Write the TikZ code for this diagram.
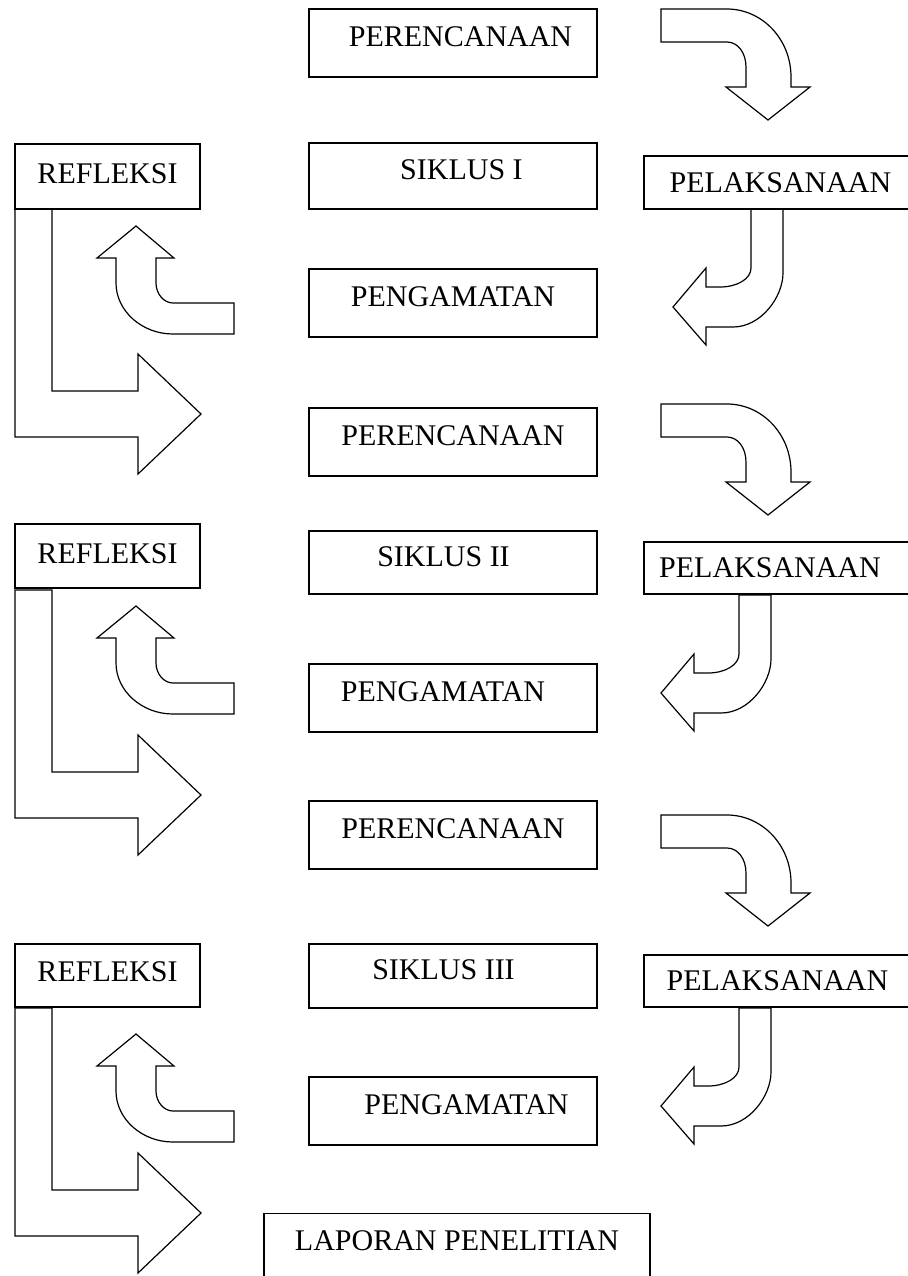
\documentclass[tikz,border=0pt]{standalone}
\usepackage{fontspec}
\setmainfont{Liberation Serif}
\usepackage{tikz}

\tikzset{
  kotak/.style={draw, line width=0.7pt, shape=rectangle, inner sep=0pt,
    minimum width=144pt, minimum height=34pt, text height=9.9pt, text depth=6pt,
    font=\fontsize{15}{18}\selectfont},
  panah/.style={draw, line width=0.6pt, line join=miter}
}

\begin{document}
\begin{tikzpicture}[x=0.5pt, y=-0.5pt]
\useasboundingbox (0,0) rectangle (908,1276);

% kolom tengah
\node[kotak] (per1) at (453,43) {\hspace*{7.5pt}PERENCANAAN};
\node[kotak, minimum height=33pt] (sik1) at (453,176) {\hspace*{8.5pt}SIKLUS I};
\node[kotak] (peng1) at (453,303) {PENGAMATAN};
\node[kotak] (per2) at (453,442) {PERENCANAAN};
\node[kotak, minimum height=31.5pt] (sik2) at (453,562.5) {SIKLUS II\hspace*{9.5pt}};
\node[kotak] (peng2) at (453,698) {PENGAMATAN\hspace*{10pt}};
\node[kotak] (per3) at (453,835) {PERENCANAAN};
\node[kotak, minimum height=32pt] (sik3) at (453,976) {SIKLUS III\hspace*{9.5pt}};
\node[kotak] (peng3) at (453,1111) {\hspace*{13.5pt}PENGAMATAN};
\node[kotak, anchor=north, minimum width=193pt, minimum height=50pt, text depth=23pt] (lap) at (457,1213) {LAPORAN PENELITIAN};

% kolom kiri
\node[kotak, minimum width=92.5pt, minimum height=32.5pt, text depth=2.5pt] (ref1) at (107.5,176.5) {REFLEKSI};
\node[kotak, minimum width=92.5pt, minimum height=32pt, text depth=2.5pt] (ref2) at (107.5,556) {REFLEKSI};
\node[kotak, minimum width=92.5pt, minimum height=31.5pt, text depth=3.5pt] (ref3) at (107.5,975.5) {REFLEKSI};

% kolom kanan
\node[kotak, minimum width=140pt, minimum height=26.5pt, text depth=0pt] (pel1) at (784,182.5) {PELAKSANAAN\hspace*{3.5pt}};
\node[kotak, minimum width=140pt, minimum height=26pt, text depth=0pt] (pel2) at (784,568) {PELAKSANAAN\hspace*{14pt}};
\node[kotak, minimum width=140pt, minimum height=26pt, text depth=0pt] (pel3) at (784,981) {PELAKSANAAN\hspace*{6.5pt}};

% perencanaan -> pelaksanaan
\draw[panah] (661,9) -- (727,9) .. controls (762,9) and (791,39) .. (791,77) -- (791,87) -- (810,87) -- (768,120) -- (726,87) -- (746,87) -- (746,67) .. controls (746,53) and (738,42) .. (727,42) -- (661,42) -- cycle;
\draw[panah, shift={(0,395)}] (661,9) -- (727,9) .. controls (762,9) and (791,39) .. (791,77) -- (791,87) -- (810,87) -- (768,120) -- (726,87) -- (746,87) -- (746,67) .. controls (746,53) and (738,42) .. (727,42) -- (661,42) -- cycle;
\draw[panah, shift={(0,806)}] (661,9) -- (727,9) .. controls (762,9) and (791,39) .. (791,77) -- (791,87) -- (810,87) -- (768,120) -- (726,87) -- (746,87) -- (746,67) .. controls (746,53) and (738,42) .. (727,42) -- (661,42) -- cycle;

% pelaksanaan -> pengamatan
\draw[panah] (751,209) -- (751,268) .. controls (751,279) and (737,287) .. (720,287) -- (706,287) -- (706,268) -- (673,307) -- (706,345) -- (706,327) -- (733,327) .. controls (761,327) and (783,297) .. (783,273) -- (783,209) -- cycle;
\draw[panah, shift={(-12,386)}] (751,209) -- (751,268) .. controls (751,279) and (737,287) .. (720,287) -- (706,287) -- (706,268) -- (673,307) -- (706,345) -- (706,327) -- (733,327) .. controls (761,327) and (783,297) .. (783,273) -- (783,209) -- cycle;
\draw[panah, shift={(-12,799)}] (751,209) -- (751,268) .. controls (751,279) and (737,287) .. (720,287) -- (706,287) -- (706,268) -- (673,307) -- (706,345) -- (706,327) -- (733,327) .. controls (761,327) and (783,297) .. (783,273) -- (783,209) -- cycle;

% pengamatan -> refleksi
\draw[panah] (234,303) -- (173,303) .. controls (164,303) and (156,294) .. (156,283) -- (156,258) -- (174,258) -- (136,226) -- (97,258) -- (116,258) -- (116,283) .. controls (116,311) and (142,334) .. (173,334) -- (234,334) -- cycle;
\draw[panah, shift={(0,380)}] (234,303) -- (173,303) .. controls (164,303) and (156,294) .. (156,283) -- (156,258) -- (174,258) -- (136,226) -- (97,258) -- (116,258) -- (116,283) .. controls (116,311) and (142,334) .. (173,334) -- (234,334) -- cycle;
\draw[panah, shift={(0,808)}] (234,303) -- (173,303) .. controls (164,303) and (156,294) .. (156,283) -- (156,258) -- (174,258) -- (136,226) -- (97,258) -- (116,258) -- (116,283) .. controls (116,311) and (142,334) .. (173,334) -- (234,334) -- cycle;

% refleksi -> perencanaan berikutnya
\draw[panah] (15,209) -- (15,437) -- (138,437) -- (138,474) -- (201,414) -- (138,354) -- (138,391) -- (52,391) -- (52,209) -- cycle;
\draw[panah, shift={(0,381)}] (15,209) -- (15,437) -- (138,437) -- (138,474) -- (201,414) -- (138,354) -- (138,391) -- (52,391) -- (52,209) -- cycle;
\draw[panah, shift={(0,799)}] (15,209) -- (15,437) -- (138,437) -- (138,474) -- (201,414) -- (138,354) -- (138,391) -- (52,391) -- (52,209) -- cycle;
\end{tikzpicture}
\end{document}
